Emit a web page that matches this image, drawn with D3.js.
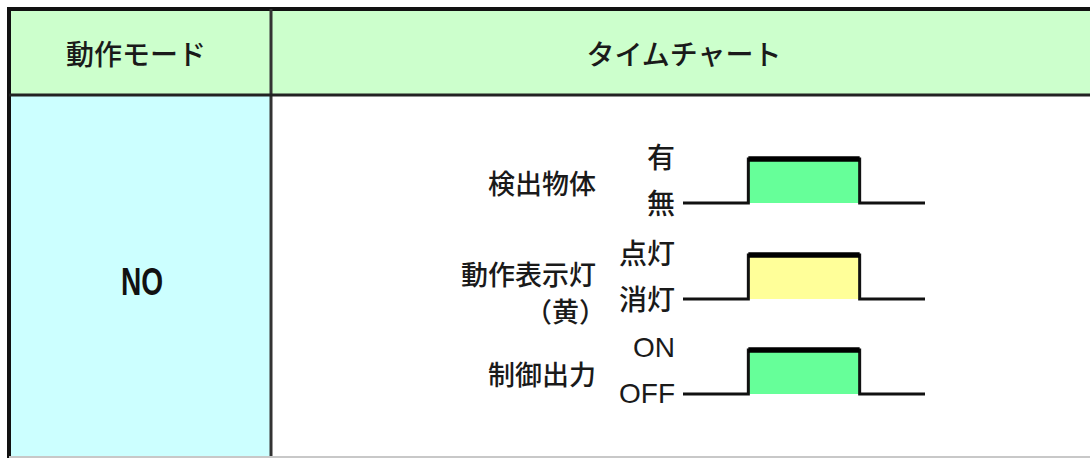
<!DOCTYPE html>
<html><head><meta charset="utf-8">
<script src="https://cdn.jsdelivr.net/npm/d3@7"></script>
<style>html,body{margin:0;padding:0;background:#fff;overflow:hidden}</style>
</head><body>
<svg id="c" width="1090" height="458"></svg>
<script>
// ---- data ----
const headers = ["動作モード", "タイムチャート"];
const modes = ["NO"];
const signalLabels = [["検出物体"], ["動作表示灯", "（黄）"], ["制御出力"]];
const highLabels = ["有", "点灯", "ON"];
const lowLabels = ["無", "消灯", "OFF"];
const pulseTimes = [0, 27, 27, 73, 73, 100];
const pulseLevels = [0, 0, 1, 1, 0, 0];
const pulseFills = ["#66ff99", "#ffff99", "#66ff99"];

// ---- drawing ----
(function () {
const svg = d3.select("#c");
const JP = "'Noto Sans CJK JP','Noto Sans CJK SC',sans-serif";
const W = 1090, H = 458;
const tLeft = 9, tTop = 9, divX = 271, headB = 95, tBottom = 457;
const ink = "#1a1a1a";

svg.append("rect").attr("x", tLeft).attr("y", tTop).attr("width", W - tLeft).attr("height", headB - tTop).attr("fill", "#ccffcc");
svg.append("rect").attr("x", tLeft).attr("y", headB).attr("width", divX - tLeft).attr("height", tBottom - headB).attr("fill", "#ccffff");
svg.append("rect").attr("x", divX).attr("y", headB).attr("width", W - divX).attr("height", tBottom - headB).attr("fill", "#ffffff");

const g = svg.append("g").attr("stroke", "#111");
g.append("line").attr("x1", tLeft - 2).attr("x2", W).attr("y1", tTop).attr("y2", tTop).attr("stroke-width", 4);
g.append("line").attr("x1", tLeft).attr("x2", tLeft).attr("y1", tTop).attr("y2", H).attr("stroke-width", 4);
g.append("line").attr("x1", divX).attr("x2", divX).attr("y1", tTop).attr("y2", H).attr("stroke-width", 3).attr("stroke", "#333");
g.append("line").attr("x1", tLeft).attr("x2", W).attr("y1", headB).attr("y2", headB).attr("stroke-width", 3).attr("stroke", "#222");
g.append("line").attr("x1", tLeft).attr("x2", W).attr("y1", tBottom).attr("y2", tBottom).attr("stroke-width", 2).attr("stroke", "#c8c8c8");

const headX = [136, 684];
svg.selectAll("text.h").data(headers).join("text").attr("class", "h")
  .attr("x", (d, i) => headX[i]).attr("y", 53)
  .attr("text-anchor", "middle").attr("dominant-baseline", "central")
  .attr("font-family", JP).attr("font-weight", 500).attr("font-size", 28).attr("fill", ink).text(d => d);

svg.selectAll("text.m").data(modes).join("text").attr("class", "m")
  .attr("transform", "translate(142,282) scale(0.74,1)")
  .attr("text-anchor", "middle").attr("dominant-baseline", "central")
  .attr("font-family", "'Liberation Sans',Arial,sans-serif")
  .attr("font-weight", "bold").attr("font-size", 38).attr("fill", "#111").text(d => d);

const x = d3.scaleLinear().domain([0, 100]).range([683, 925]);
const bases = [203, 299, 394];
const pts = pulseTimes.map((t, i) => [t, pulseLevels[i]]);

signalLabels.forEach((lab, i) => {
  const y = d3.scaleLinear().domain([0, 1]).range([bases[i], bases[i] - 44]);
  const row = svg.append("g");
  const hi = pts.filter(p => p[1] === 1);
  row.append("rect").attr("x", x(hi[0][0])).attr("width", x(hi[hi.length - 1][0]) - x(hi[0][0]))
    .attr("y", y(1)).attr("height", y(0) - y(1)).attr("fill", pulseFills[i]);
  row.append("path").attr("d", d3.line().x(p => x(p[0])).y(p => y(p[1]))(pts))
    .attr("fill", "none").attr("stroke", "#111").attr("stroke-width", 3);
  row.append("path").attr("d", d3.line().x(p => x(p[0])).y(p => y(p[1]))(hi))
    .attr("fill", "none").attr("stroke", "#000").attr("stroke-width", 5.5);
  const latin = i === 2;
  row.append("text").attr("x", 675).attr("y", y(1) - 3).attr("text-anchor", "end").attr("dominant-baseline", "central")
    .attr("font-family", latin ? "'Liberation Sans',Arial,sans-serif" : JP).attr("font-weight", 500)
    .attr("font-size", 28).attr("fill", ink).text(highLabels[i]);
  row.append("text").attr("x", 675).attr("y", y(0) - 1).attr("text-anchor", "end").attr("dominant-baseline", "central")
    .attr("font-family", latin ? "'Liberation Sans',Arial,sans-serif" : JP).attr("font-weight", 500)
    .attr("font-size", 28).attr("fill", ink).text(lowLabels[i]);
  const offs = lab.length === 1 ? [-21] : [-26, 11];
  row.selectAll("text.s").data(lab).join("text").attr("class", "s")
    .attr("x", (d, j) => j === 0 ? 596 : 606).attr("y", (d, j) => bases[i] + offs[j])
    .attr("text-anchor", "end").attr("dominant-baseline", "central")
    .attr("font-family", JP).attr("font-weight", 500).attr("font-size", 27).attr("fill", ink).text(d => d);
});
})();
</script>
</body></html>
